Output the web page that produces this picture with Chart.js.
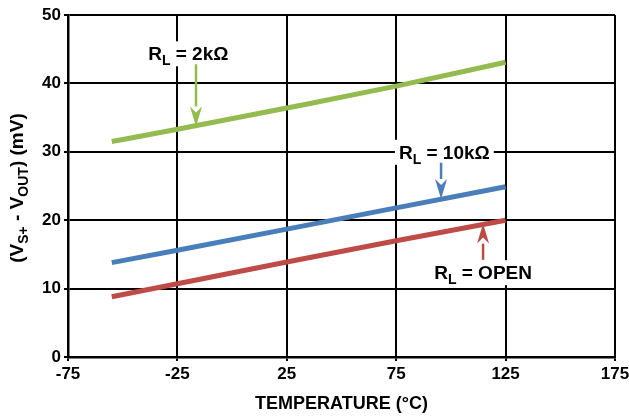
<!DOCTYPE html>
<html>
<head>
<meta charset="utf-8">
<script src="https://cdn.jsdelivr.net/npm/chart.js@4"></script>
<style>
  html, body { margin: 0; padding: 0; background: #fff; }
  #wrap { width: 629px; height: 417px; }
</style>
</head>
<body>
<div id="wrap"><canvas id="chart"></canvas></div>
<script>
const GREEN = '#93bb50', BLUE = '#4a7ebb', RED = '#be4b48';
const FONT = '"Liberation Sans", Arial, sans-serif';

const TEMPS = [-55, -25, 25, 75, 125];
const RL_2K = [31.5, 33.3, 36.4, 39.6, 43.1];
const RL_10K = [13.8, 15.6, 18.7, 21.8, 24.9];
const RL_OPEN = [8.8, 10.7, 13.9, 17.0, 20.0];
const X_TICKS = [-75, -25, 25, 75, 125, 175];
const Y_TICKS = [0, 10, 20, 30, 40, 50];

// callouts: label centre (x, y) and arrow (ax, from -> to), in data units
const NOTES = [
  { rest: ' = 2k\u03A9', x: -20, y: 44.4, ax: -16.5, from: 42.8, to: 33.7, color: GREEN },
  { rest: ' = 10k\u03A9', x: 97, y: 30.0, ax: 95.5, from: 28.4, to: 23.1, color: BLUE },
  { rest: ' = OPEN', x: 114.7, y: 12.4, ax: 114.7, from: 14.2, to: 19.5, color: RED }
];

const pts = ys => TEMPS.map((t, i) => ({ x: t, y: ys[i] }));

function richText(ctx, parts, x, y, measureOnly) {
  let w = 0;
  parts.forEach(p => {
    ctx.font = 'bold ' + p.size + 'px ' + FONT;
    const pw = ctx.measureText(p.t).width;
    if (!measureOnly) ctx.fillText(p.t, x + w, y + (p.dy || 0));
    w += pw;
  });
  return w;
}

const calloutPlugin = {
  id: 'callouts',
  afterDatasetsDraw(chart) {
    const { ctx, scales: { x, y } } = chart;
    ctx.save();
    ctx.textBaseline = 'alphabetic';
    NOTES.forEach(n => {
      const parts = [{ t: 'R', size: 19 }, { t: 'L', size: 14, dy: 5 }, { t: n.rest, size: 19 }];
      const w = richText(ctx, parts, 0, 0, true);
      const cx = x.getPixelForValue(n.x), cy = y.getPixelForValue(n.y);
      ctx.fillStyle = '#fff';
      ctx.fillRect(cx - w / 2 - 4, cy - 12, w + 8, 25);
      ctx.fillStyle = '#000';
      richText(ctx, parts, cx - w / 2, cy + 7, false);

      const axp = x.getPixelForValue(n.ax);
      const y0 = y.getPixelForValue(n.from), y1 = y.getPixelForValue(n.to);
      const dir = Math.sign(y1 - y0);
      const headLen = 20, headW = 6;
      ctx.strokeStyle = n.color;
      ctx.fillStyle = n.color;
      ctx.lineWidth = 2.5;
      ctx.beginPath();
      ctx.moveTo(axp, y0);
      ctx.lineTo(axp, y1 - dir * headLen);
      ctx.stroke();
      ctx.beginPath();
      ctx.moveTo(axp, y1);
      ctx.lineTo(axp - headW, y1 - dir * headLen);
      ctx.lineTo(axp, y1 - dir * (headLen - 6));
      ctx.lineTo(axp + headW, y1 - dir * headLen);
      ctx.closePath();
      ctx.fill();
    });

    // axis titles
    ctx.fillStyle = '#000';
    ctx.font = 'bold 18px ' + FONT;
    ctx.textAlign = 'center';
    ctx.fillText('TEMPERATURE (\u00B0C)', (chart.chartArea.left + chart.chartArea.right) / 2, 409);

    ctx.textAlign = 'left';
    const yParts = [
      { t: '(V', size: 19 }, { t: 'S+', size: 14, dy: 5 },
      { t: ' - V', size: 19 }, { t: 'OUT', size: 14, dy: 5 },
      { t: ') (mV)', size: 19 }
    ];
    const yw = richText(ctx, yParts, 0, 0, true);
    ctx.translate(22.5, (chart.chartArea.top + chart.chartArea.bottom) / 2 + 2);
    ctx.rotate(-Math.PI / 2);
    richText(ctx, yParts, -yw / 2, 0, false);
    ctx.restore();
  }
};

new Chart(document.getElementById('chart'), {
  type: 'line',
  data: {
    datasets: [
      { label: 'RL = 2k', data: pts(RL_2K), borderColor: GREEN, cubicInterpolationMode: 'monotone' },
      { label: 'RL = 10k', data: pts(RL_10K), borderColor: BLUE },
      { label: 'RL = OPEN', data: pts(RL_OPEN), borderColor: RED }
    ]
  },
  options: {
    responsive: true,
    maintainAspectRatio: false,
    animation: false,
    datasets: { line: { borderWidth: 5, pointRadius: 0, borderCapStyle: 'butt', fill: false } },
    layout: { padding: { top: 15, right: 14, left: 0, bottom: 0 } },
    plugins: { legend: { display: false }, tooltip: { enabled: false } },
    scales: {
      x: {
        type: 'linear', min: -75, max: 175,
        afterBuildTicks: s => { s.ticks = X_TICKS.map(v => ({ value: v })); },
        afterFit: s => { s.height = 60; s.paddingLeft = 0; s.paddingRight = 0; },
        grid: { color: '#000', lineWidth: 2, tickLength: 4 },
        border: { color: '#000', width: 2.5 },
        ticks: { color: '#000', font: { family: FONT, size: 17, weight: 'bold' }, padding: 3, maxRotation: 0 }
      },
      y: {
        min: 0, max: 50,
        afterBuildTicks: s => { s.ticks = Y_TICKS.map(v => ({ value: v })); },
        afterFit: s => { s.width = 68; },
        grid: { color: '#000', lineWidth: 2, tickLength: 4 },
        border: { color: '#000', width: 2.5 },
        ticks: { color: '#000', font: { family: FONT, size: 17, weight: 'bold' }, padding: 3 }
      }
    }
  },
  plugins: [calloutPlugin]
});
</script>
</body>
</html>
